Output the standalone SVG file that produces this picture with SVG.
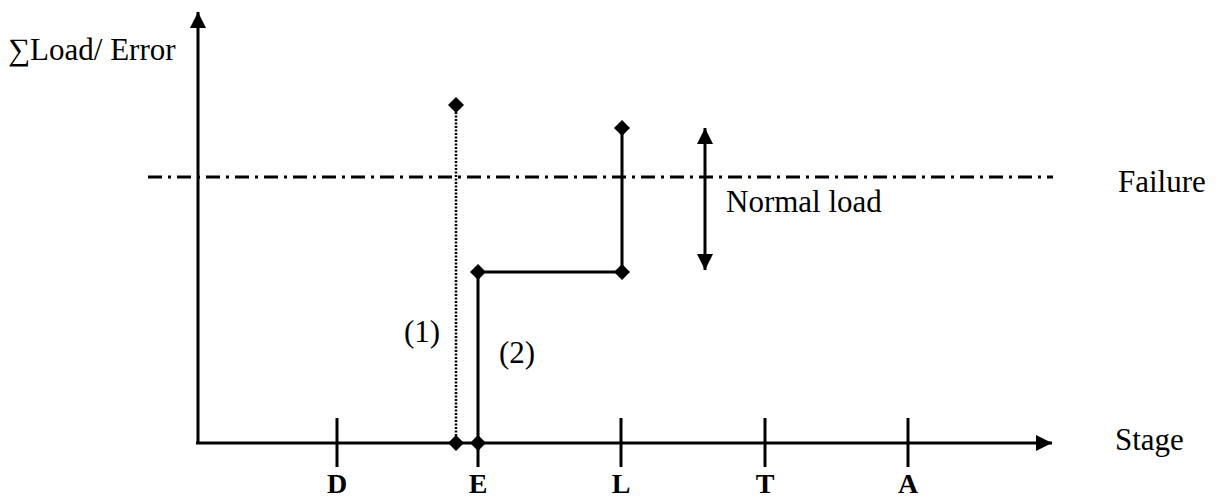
<svg xmlns="http://www.w3.org/2000/svg" width="1216" height="501" viewBox="0 0 1216 501">
<style>
text{font-family:"Liberation Serif","Times New Roman",Tinos,serif;font-size:31px;fill:#000}
.tick{font-weight:bold;text-anchor:middle;font-size:28px}
.ax{stroke:#000;stroke-width:3;fill:none}
.sol{stroke:#000;stroke-width:3;fill:none}
.dot{stroke:#000;stroke-width:2.5;fill:none;stroke-dasharray:2 1.5}
.dd{stroke:#000;stroke-width:3;fill:none;stroke-dasharray:14 6 3 6}
.dia{fill:#000}
</style>
<defs>
<marker id="ah" viewBox="0 0 16 16" refX="16" refY="8" markerWidth="16" markerHeight="16" markerUnits="userSpaceOnUse" orient="auto-start-reverse">
<path d="M0,0 L16,8 L0,16 Z" fill="#000"/>
</marker>
<path id="dm" d="M0,-8 L8,0 L0,8 L-8,0 Z"/>
</defs>
<g id="connectors">
<path class="ax" d="M198,443 L198,12" marker-end="url(#ah)"/>
<path class="ax" d="M196,443 L1052,443" marker-end="url(#ah)"/>
<path class="ax" d="M337,418 V467 M478,443 V467 M621,418 V467 M765,418 V467 M908,418 V467"/>
<path class="dd" d="M148,177 H1053"/>
<path class="dot" d="M456,105 V443"/>
<path class="sol" d="M478,443 V272 H622 V128"/>
<path class="sol" d="M705,128 V270" marker-start="url(#ah)" marker-end="url(#ah)"/>
</g>
<g id="markers">
<use href="#dm" x="456" y="105" class="dia"/>
<use href="#dm" x="456" y="443" class="dia"/>
<use href="#dm" x="478" y="443" class="dia"/>
<use href="#dm" x="478" y="272" class="dia"/>
<use href="#dm" x="622" y="272" class="dia"/>
<use href="#dm" x="622" y="128" class="dia"/>
</g>
<g id="y-label"><text x="8" y="60">∑Load/ Error</text></g>
<g id="failure-label"><text x="1118" y="192">Failure</text></g>
<g id="normal-load-label"><text x="726" y="212">Normal load</text></g>
<g id="stage-label"><text x="1115" y="450">Stage</text></g>
<g id="path1-label"><text x="422" y="342" text-anchor="middle">(1)</text></g>
<g id="path2-label"><text x="517" y="363" text-anchor="middle">(2)</text></g>
<g id="tick-D"><text class="tick" x="337" y="493">D</text></g>
<g id="tick-E"><text class="tick" x="478" y="493">E</text></g>
<g id="tick-L"><text class="tick" x="621" y="493">L</text></g>
<g id="tick-T"><text class="tick" x="765" y="493">T</text></g>
<g id="tick-A"><text class="tick" x="908" y="493">A</text></g>
</svg>
